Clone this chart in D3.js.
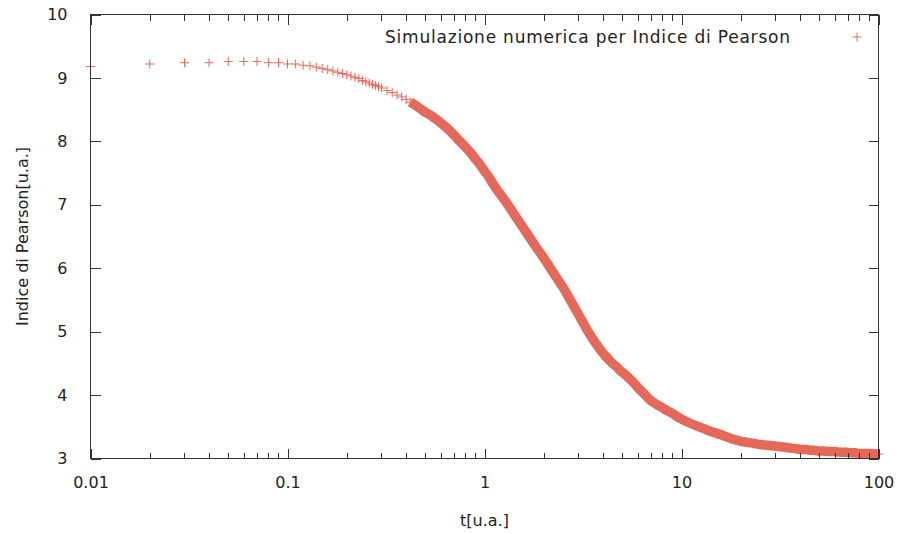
<!DOCTYPE html>
<html>
<head>
<meta charset="utf-8">
<script src="https://cdn.jsdelivr.net/npm/d3@7"></script>
<style>
  html, body { margin: 0; padding: 0; background: #fff; }
  svg { display: block; font-family: "DejaVu Sans", sans-serif; }
  .axis path, .axis line { stroke: #333; stroke-width: 1; shape-rendering: crispEdges; }
  .axis text { fill: #222; font-size: 16px; font-family: "DejaVu Sans", sans-serif; }
  .pt { stroke: #e5695a; stroke-width: 1; fill: none; }
</style>
</head>
<body>
<svg id="chart" width="900" height="534"></svg>
<script>
// t values (u.a.) and Pearson index
const tVals = [
  0.01, 0.02, 0.03, 0.04, 0.05, 0.06, 0.07, 0.08, 0.09, 0.10,
  0.11, 0.12, 0.13, 0.14, 0.15, 0.16, 0.17, 0.18, 0.19, 0.20,
  0.21, 0.22, 0.23, 0.24, 0.25, 0.26, 0.27, 0.28, 0.29, 0.30,
  0.32, 0.34, 0.36, 0.38, 0.40, 0.42, 0.44, 0.46, 0.48, 0.50,
  0.52, 0.54, 0.56, 0.58, 0.60,
  0.65, 0.70, 0.75, 0.80, 0.85, 0.90, 0.95, 1.00, 1.05, 1.10, 1.15, 1.20,
  1.3, 1.4, 1.5, 1.6, 1.7, 1.8, 1.9, 2.0, 2.1, 2.2, 2.3, 2.4, 2.5,
  2.7, 2.9, 3.1, 3.3, 3.5, 3.7, 3.9, 4.1, 4.3, 4.5, 4.7, 4.9,
  5.1, 5.4, 5.7, 6.0, 6.5, 7.0, 7.5, 8.0, 8.5, 9.0, 9.5, 10, 11, 12,
  13, 14, 15, 16, 17, 18, 19, 20, 21, 22, 23, 24, 25,
  27, 29, 31, 33, 35, 37, 39, 41, 43, 45, 47, 49,
  52, 56, 60, 64, 68, 72, 76, 80, 85, 90, 95, 100
];
const pearson = [
  9.18, 9.22, 9.24, 9.24, 9.26, 9.26, 9.26, 9.24, 9.24, 9.22,
  9.22, 9.20, 9.19, 9.17, 9.15, 9.13, 9.11, 9.09, 9.07, 9.05,
  9.03, 9.01, 8.99, 8.96, 8.94, 8.92, 8.90, 8.88, 8.86, 8.84,
  8.80, 8.77, 8.73, 8.70, 8.66, 8.62, 8.58, 8.54, 8.50, 8.46,
  8.43, 8.40, 8.36, 8.33, 8.29,
  8.20, 8.10, 8.00, 7.91, 7.82, 7.72, 7.63, 7.53, 7.44, 7.34, 7.25, 7.17,
  7.02, 6.87, 6.73, 6.60, 6.48, 6.36, 6.26, 6.16, 6.06, 5.96, 5.87, 5.78, 5.70,
  5.52, 5.35, 5.19, 5.04, 4.91, 4.80, 4.70, 4.62, 4.55, 4.49, 4.44, 4.38,
  4.34, 4.27, 4.20, 4.12, 4.01, 3.91, 3.85, 3.80, 3.75, 3.71, 3.66, 3.62, 3.56, 3.51,
  3.47, 3.43, 3.40, 3.37, 3.34, 3.31, 3.29, 3.27, 3.26, 3.25, 3.24, 3.23, 3.22,
  3.21, 3.20, 3.19, 3.18, 3.17, 3.16, 3.15, 3.14, 3.14, 3.13, 3.13, 3.12,
  3.12, 3.11, 3.11, 3.10, 3.10, 3.09, 3.09, 3.08, 3.08, 3.08, 3.07, 3.07
];
const xMajor = [0.01, 0.1, 1, 10, 100];
const xMinor = [0.02, 0.03, 0.04, 0.05, 0.06, 0.07, 0.08, 0.09,
                0.2, 0.3, 0.4, 0.5, 0.6, 0.7, 0.8, 0.9,
                2, 3, 4, 5, 6, 7, 8, 9,
                20, 30, 40, 50, 60, 70, 80, 90];
const yTicks = [3, 4, 5, 6, 7, 8, 9, 10];

const legendLabel = "Simulazione numerica per Indice di Pearson";

const m = { left: 90.5, right: 878.5, top: 14.5, bottom: 458.5 };
const svg = d3.select("#chart");

const x = d3.scaleLog().domain([0.01, 100]).range([m.left, m.right]);
const y = d3.scaleLinear().domain([3, 10]).range([m.bottom, m.top]);

const data = tVals.map((t, i) => ({ t, v: pearson[i] }));

// where the sampling is dense the "+" markers merge into a solid band
const band = d3.line().x(d => x(d.t)).y(d => y(d.v)).curve(d3.curveMonotoneX);
svg.append("path")
  .datum(data.filter(d => d.t >= 0.42))
  .attr("d", band)
  .attr("fill", "none")
  .attr("stroke", "#e5695a")
  .attr("stroke-width", 9.5);

// points as "+" markers
const s = 4.5;
const plus = (cx, cy) => `M${cx - s},${cy}H${cx + s}M${cx},${cy - s}V${cy + s}`;

svg.append("g")
  .selectAll("path")
  .data(data)
  .join("path")
  .attr("class", "pt")
  .attr("d", d => plus(x(d.t), y(d.v)));

// frame
svg.append("rect")
  .attr("x", m.left).attr("y", m.top)
  .attr("width", m.right - m.left).attr("height", m.bottom - m.top)
  .attr("fill", "none").attr("stroke", "#333").attr("shape-rendering", "crispEdges");

// bottom axis: major + minor ticks
svg.append("g").attr("class", "axis")
  .attr("transform", `translate(0,${m.bottom})`)
  .call(d3.axisBottom(x).tickValues(xMajor).tickSize(-10).tickPadding(18)
        .tickFormat(d => String(d)))
  .call(g => g.select(".domain").remove());
svg.append("g").attr("class", "axis")
  .attr("transform", `translate(0,${m.bottom})`)
  .call(d3.axisBottom(x).tickValues(xMinor).tickSize(-6).tickFormat(""))
  .call(g => g.select(".domain").remove());

// top mirror
svg.append("g").attr("class", "axis")
  .attr("transform", `translate(0,${m.top})`)
  .call(d3.axisTop(x).tickValues(xMajor).tickSize(-10).tickFormat(""))
  .call(g => g.select(".domain").remove());
svg.append("g").attr("class", "axis")
  .attr("transform", `translate(0,${m.top})`)
  .call(d3.axisTop(x).tickValues(xMinor).tickSize(-6).tickFormat(""))
  .call(g => g.select(".domain").remove());

// left + right y axes
svg.append("g").attr("class", "axis")
  .attr("transform", `translate(${m.left},0)`)
  .call(d3.axisLeft(y).tickValues(yTicks).tickSize(-10).tickPadding(23)
        .tickFormat(d3.format("d")))
  .call(g => g.select(".domain").remove());
svg.append("g").attr("class", "axis")
  .attr("transform", `translate(${m.right},0)`)
  .call(d3.axisRight(y).tickValues(yTicks).tickSize(-10).tickFormat(""))
  .call(g => g.select(".domain").remove());

// axis titles
svg.append("text")
  .attr("x", (m.left + m.right) / 2).attr("y", 526)
  .attr("text-anchor", "middle").attr("fill", "#222").attr("font-size", 16)
  .text("t[u.a.]");
svg.append("text")
  .attr("transform", `translate(28,${(m.top + m.bottom) / 2}) rotate(-90)`)
  .attr("text-anchor", "middle").attr("fill", "#222").attr("font-size", 16)
  .text("Indice di Pearson[u.a.]");

// legend
svg.append("text")
  .attr("x", 385).attr("y", 43)
  .attr("textLength", 405).attr("lengthAdjust", "spacing")
  .attr("fill", "#222").attr("font-size", 17)
  .text(legendLabel);
svg.append("path").attr("class", "pt").attr("d", plus(857, 37));
</script>
</body>
</html>
